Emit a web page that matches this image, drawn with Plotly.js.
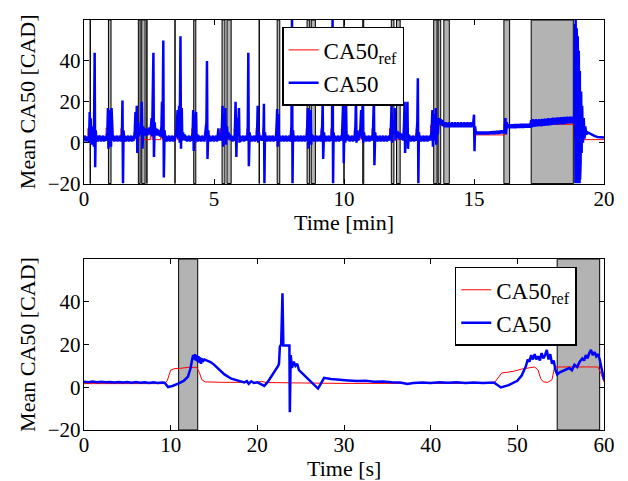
<!DOCTYPE html>
<html>
<head>
<meta charset="utf-8">
<script src="https://cdn.plot.ly/plotly-3.0.1.min.js"></script>
<style>html,body{margin:0;padding:0;background:#fff;}#chart{width:628px;height:481px;}</style>
</head>
<body>
<div id="chart"></div>
<script>
// ---------- DATA ----------
// Top panel: [time (min), CA50 (CAD)]
var topCA50 = [
[0,2],[0.03,3.5],[0.06,0.5],[0.09,3],[0.12,1],[0.15,2.5],[0.18,0.5],
[0.2,4],[0.22,15],[0.24,0],[0.26,12],[0.28,-1],[0.3,8],[0.33,2],[0.36,5],[0.38,-2],[0.41,44],[0.43,-12],[0.45,6],[0.48,1],[0.5,3],
[0.53,0.5],[0.56,3.5],[0.59,1],[0.62,3.5],[0.65,0.5],[0.68,3],[0.71,1],[0.74,3.5],[0.77,0.5],[0.8,3],[0.83,1],[0.86,3],
[0.9,5],[0.92,17],[0.94,-3],[0.97,16],[0.99,0],[1.02,15],[1.04,-2],[1.06,17],[1.08,3],[1.11,1],
[1.14,3.5],[1.17,0.5],[1.2,3],[1.23,1],[1.26,3.5],[1.29,0.5],[1.32,3],[1.35,1],[1.38,3.5],[1.41,0.5],[1.44,3],
[1.46,4],[1.48,20.6],[1.5,-20],[1.52,6],[1.55,1],[1.58,3.5],[1.61,0.5],[1.64,3],[1.67,1],[1.7,3.5],[1.73,0.5],[1.76,3],[1.79,1],[1.82,3.5],[1.85,0.5],[1.88,3],[1.91,1],
[1.95,5],[1.98,15],[2.0,2],[2.03,18],[2.05,-5],[2.08,10],[2.1,3],[2.14,7],[2.18,4],[2.22,20],[2.25,-3],[2.28,8],[2.31,4],[2.34,7],[2.37,3.5],[2.4,6.5],[2.43,3.5],
[2.46,7],[2.49,4],[2.52,7.5],[2.55,4],[2.6,12],[2.62,3],[2.65,26],[2.67,44],[2.69,-7],[2.72,10],[2.75,4],[2.78,7],[2.81,3.5],[2.84,6.5],[2.87,3.5],[2.9,6],[2.93,3],[2.96,5],
[2.98,8],[3.0,20],[3.02,2],[3.05,50],[3.07,-17],[3.1,6],[3.13,1],[3.16,3.5],[3.19,0.5],[3.22,3],[3.25,1],[3.28,3.5],[3.31,0.5],[3.34,3],[3.37,1],[3.4,3.5],[3.43,0.5],[3.46,3],[3.49,1],[3.52,3],
[3.55,5],[3.6,16],[3.62,2],[3.66,18],[3.68,0],[3.71,52],[3.73,-3],[3.76,17],[3.78,1],[3.81,5],[3.84,1.5],[3.87,4],[3.9,1],[3.93,3.5],[3.96,0.5],[3.99,3],[4.02,1],[4.05,3.5],[4.08,0.5],[4.11,3],[4.14,1],
[4.18,5],[4.2,16],[4.22,-4],[4.25,14],[4.28,0],[4.31,15],[4.33,2],[4.36,4],[4.39,0.5],[4.42,3.5],[4.45,1],[4.48,3],[4.51,0.5],[4.54,3.5],[4.57,1],[4.6,3],[4.63,0.5],[4.66,4],
[4.71,10],[4.73,40],[4.75,-8],[4.78,6],[4.81,1],[4.84,3.5],[4.87,0.5],[4.9,3],[4.93,1],[4.96,3.5],[4.99,0.5],[5.02,3],[5.05,1],[5.08,3.5],[5.11,0.5],[5.14,3],[5.17,7],[5.2,1],[5.23,3.5],[5.26,1],
[5.3,6],[5.33,18],[5.35,-2],[5.38,14],[5.41,3],[5.44,17],[5.46,-1],[5.5,8],[5.53,2],[5.56,5],[5.59,1.5],[5.62,4],[5.65,1],[5.68,3.5],[5.71,0.5],[5.74,3],[5.77,1],[5.8,4],
[5.83,20],[5.86,-7],[5.89,12],[5.92,3],[5.96,17],[5.98,0],[6.01,3.5],[6.04,0.5],[6.07,3],[6.1,1],[6.13,3.5],[6.16,0.5],[6.19,3],[6.22,1],[6.25,3.5],[6.28,1],
[6.3,8],[6.32,44],[6.34,-11.5],[6.37,5],[6.4,1],[6.43,3.5],[6.46,0.5],[6.49,3],[6.52,1],[6.55,3.5],[6.58,0.5],[6.61,3],[6.63,1],
[6.66,6],[6.68,18],[6.7,0],[6.73,5],[6.76,1],[6.79,3.5],[6.82,1],[6.85,3],[6.88,1],[6.9,2],[6.92,19],[6.94,-20],[6.96,5],[6.99,1],[7.02,3.5],[7.05,0.5],[7.08,3],[7.11,1],[7.14,3.5],[7.17,0.5],[7.2,3],[7.23,1],[7.26,3.5],[7.29,0.5],[7.32,3],[7.35,1],[7.38,3],
[7.4,6],[7.43,16.5],[7.45,-2],[7.48,14],[7.5,1],[7.53,3.5],[7.56,0.5],[7.59,3],[7.62,1],[7.65,3.5],[7.68,0.5],[7.71,3],[7.74,1],[7.77,3.5],[7.8,0.5],[7.83,3],[7.86,1],[7.89,3.5],[7.92,0.5],[7.95,3],
[7.98,8],[8.0,62],[8.02,-20],[8.04,6],[8.07,1],[8.1,3.5],[8.13,0.5],[8.16,3],[8.19,1],[8.22,3.5],[8.25,0.5],[8.28,3],[8.31,1],[8.34,3.5],[8.37,0.5],[8.4,3],[8.43,1],[8.46,3.5],[8.49,0.5],[8.52,3],[8.55,1],
[8.58,6],[8.61,17],[8.63,-3],[8.66,14],[8.69,1],[8.72,16],[8.74,-1],[8.77,4],[8.8,1],[8.83,3.5],[8.86,0.5],[8.89,3],[8.92,1],[8.95,3.5],[8.98,0.5],[9.01,3],[9.04,1],[9.07,3.5],[9.1,0.5],[9.13,3],
[9.16,8],[9.18,19.5],[9.2,-8],[9.23,5],[9.26,1],[9.29,3.5],[9.32,0.5],[9.35,3],[9.38,1],[9.41,3.5],[9.44,0.5],[9.47,3],[9.5,1],[9.52,3],
[9.54,8],[9.56,62],[9.58,-20],[9.6,5],[9.63,1],[9.66,3.5],[9.69,0.5],[9.72,3],[9.75,1],[9.78,3.5],[9.81,0.5],[9.84,3],[9.87,1],[9.9,3.5],[9.92,1],
[9.94,8],[9.97,21],[9.99,-10],[10.02,14],[10.05,0],[10.08,18],[10.1,1],[10.13,4],[10.16,1],[10.19,3.5],[10.22,0.5],[10.25,3],[10.28,1],[10.31,3.5],[10.34,0.5],[10.37,3],[10.4,1],
[10.44,8],[10.46,22],[10.48,0],[10.52,6],[10.55,1],[10.58,3.5],[10.62,4],[10.66,16],[10.68,2],[10.72,21],[10.74,0],[10.77,5],[10.8,1],[10.83,3.5],[10.86,0.5],[10.89,3],[10.92,1],[10.95,3.5],[10.98,0.5],[11.01,3],[11.04,1],[11.07,3.5],[11.1,1],
[11.12,8],[11.15,22],[11.17,-11],[11.2,5],[11.23,1],[11.26,3.5],[11.29,0.5],[11.32,3],[11.35,1],[11.38,3.5],[11.41,0.5],[11.44,3],[11.47,1],[11.5,3.5],[11.53,0.5],[11.56,3],[11.59,1],[11.62,3.5],[11.65,0.5],[11.68,3],[11.71,1],[11.74,3.5],[11.77,1],
[11.8,6],[11.83,18.5],[11.85,0],[11.88,10],[11.92,4],[11.96,17],[11.98,1],[12.01,6],[12.04,2.5],[12.07,5.5],[12.1,2],[12.13,5],[12.16,1.5],[12.19,4.5],[12.22,1.5],[12.25,4],[12.28,1],[12.3,5],
[12.33,20],[12.35,-5],[12.38,10],[12.41,3],[12.44,20],[12.46,-3],[12.49,4],[12.52,1],[12.55,3.5],[12.58,0.5],[12.61,3],[12.64,1],[12.67,3.5],[12.7,0.5],[12.73,3],[12.76,1],[12.79,4],
[12.82,10],[12.84,31.5],[12.86,-20],[12.88,5],[12.91,1],[12.94,3.5],[12.97,0.5],[13.0,3],[13.03,1],[13.06,3.5],[13.09,0.5],[13.12,3],[13.15,1],[13.18,3.5],[13.21,0.5],[13.24,3],[13.27,1],[13.3,3.5],[13.33,1],
[13.37,6],[13.4,16],[13.42,-2],[13.46,14],[13.49,1],[13.53,17],[13.55,-1],[13.58,12],[13.61,4],[13.64,11],
[13.67,12],[13.7,9],[13.73,11.5],[13.76,8.5],[13.79,11],[13.82,8],[13.85,10],[13.88,7.5],[13.91,10],[13.94,7.5],[13.97,9.5],[14.0,7.5],[14.03,10],[14.06,7.5],[14.09,9.5],[14.12,7.5],[14.15,10],[14.18,7.5],[14.21,9.5],[14.24,7.5],[14.27,10],[14.3,7.5],[14.33,9.5],[14.36,7.5],[14.39,10],[14.42,7.5],[14.45,9.5],[14.48,7.5],[14.51,10],[14.54,7.5],[14.57,9.5],[14.6,7.5],[14.63,10],[14.66,7.5],[14.69,9.5],[14.72,7.5],[14.75,10],[14.78,7.5],[14.81,9.5],[14.84,7.5],[14.87,10],[14.9,7.5],[14.93,9.5],[14.96,8],
[14.98,10],[15.0,13.7],[15.02,-4.2],[15.04,8],[15.07,5],
[15.1,5.5],[15.13,4],[15.16,5.5],[15.19,4],[15.22,5.5],[15.25,4],[15.28,5.5],[15.31,4],[15.34,5.5],[15.37,4],[15.4,5.5],[15.43,4],[15.46,5.5],[15.49,4],[15.52,5.5],[15.55,4],[15.58,5.5],[15.61,4.2],[15.64,5.6],[15.67,4.2],[15.7,5.6],[15.73,4.2],[15.76,5.7],[15.79,4.2],[15.82,5.7],[15.85,4.3],[15.88,5.8],[15.91,4.3],[15.94,5.8],[15.97,4.4],[16.0,5.9],[16.03,4.5],[16.06,6],[16.09,4.5],[16.12,6],[16.15,5],
[16.18,7],[16.21,12],[16.23,4],[16.26,10],[16.3,7],
[16.33,9],[16.36,7],[16.39,9],[16.42,7],[16.45,9],[16.48,7],[16.51,9],[16.54,7],[16.57,9.2],[16.6,7],[16.63,9.2],[16.66,7.2],[16.69,9.2],[16.72,7.2],[16.75,9.2],[16.78,7.2],[16.81,9.3],[16.84,7.2],[16.87,9.3],[16.9,7.2],[16.93,9.3],[16.96,7.3],[16.99,9.3],[17.02,7.3],[17.05,9.3],[17.08,7.3],[17.11,9.3],[17.14,7.3],[17.17,9],
[17.2,11],[17.23,7.5],[17.26,11.5],[17.29,8],[17.32,11],[17.35,7.8],[17.38,11.5],[17.41,8],[17.44,11.2],[17.47,8],[17.5,11.5],[17.53,8.2],[17.56,11.3],[17.59,8],[17.62,11.6],[17.65,8.3],[17.68,11.5],[17.71,8.2],[17.74,11.8],[17.77,8.5],[17.8,11.6],[17.83,8.4],[17.86,12],[17.89,8.5],[17.92,11.8],[17.95,8.6],[17.98,12],[18.01,8.7],[18.04,12.2],[18.07,8.8],[18.1,12],[18.13,8.8],[18.16,12.3],[18.19,8.9],[18.22,12.4],[18.25,9],[18.28,12.3],[18.31,9],[18.34,12.5],[18.37,9.2],[18.4,12.4],[18.43,9],[18.46,12.6],[18.49,9.2],[18.52,12.5],[18.55,9.3],[18.58,12.7],[18.61,9.3],[18.64,12.6],[18.67,9.4],[18.7,12.8],[18.73,9.4],[18.76,12.7],[18.79,9.5],[18.82,12.8],[18.84,9.5],
[18.86,14],[18.87,40],[18.88,-12],[18.89,58],[18.9,-20],[18.91,60],[18.92,-8],[18.93,59],[18.94,-20],[18.95,56],[18.96,-15],[18.97,55],[18.98,-20],[18.99,52],[19.0,-10],[19.01,50],[19.02,-20],[19.03,45],[19.04,-5],[19.05,40],[19.06,-20],[19.07,35],[19.08,-18],[19.09,30],[19.1,-10],[19.12,25],[19.14,-5],[19.16,18],[19.19,0],[19.22,12],[19.25,2],[19.28,8],[19.32,4],
[19.37,5],[19.45,4.5],[19.55,3.5],[19.65,3.2],[19.75,2.8],[19.85,2.6],[20,2.5]
];
// Top panel reference: [time (min), CA50_ref (CAD)]
var topRef = [
[0,1.5],[0.15,1.5],[0.15,7],[0.22,7],[0.22,1.5],[0.85,1.5],[0.85,7.2],[0.92,7.2],[0.92,1.5],
[1.42,1.5],[1.42,7],[1.48,7],[1.48,1.5],[1.95,1.5],[1.95,7],[2.03,7],[2.03,1.5],
[2.55,1.5],[2.55,7],[2.62,7],[2.62,1.5],[2.95,1.5],[2.95,7],[3.02,7],[3.02,1.5],
[3.52,1.5],[3.52,8],[3.6,8],[3.6,1.5],[4.15,1.5],[4.15,7],[4.22,7],[4.22,1.5],
[4.68,1.5],[4.68,7],[4.73,7],[4.73,1.5],[5.25,1.5],[5.25,7],[5.32,7],[5.32,1.5],
[5.78,1.5],[5.78,7],[5.84,7],[5.84,1.5],[6.27,1.5],[6.27,7],[6.32,7],[6.32,1.5],
[6.62,1.5],[6.62,7],[6.68,7],[6.68,1.5],[6.88,1.5],[6.88,7],[6.92,7],[6.92,1.5],
[7.38,1.5],[7.38,7],[7.43,7],[7.43,1.5],[7.95,1.5],[7.95,7],[8.0,7],[8.0,1.5],
[8.55,1.5],[8.55,7],[8.61,7],[8.61,1.5],[9.12,1.5],[9.12,7],[9.18,7],[9.18,1.5],
[9.5,1.5],[9.5,7],[9.56,7],[9.56,1.5],[9.9,1.5],[9.9,7],[9.97,7],[9.97,1.5],
[10.4,1.5],[10.4,7],[10.46,7],[10.46,1.5],[10.62,1.5],[10.62,7],[10.68,7],[10.68,1.5],
[11.08,1.5],[11.08,7],[11.15,7],[11.15,1.5],[11.75,1.5],[11.75,7],[11.83,7],[11.83,1.5],
[12.28,1.5],[12.28,7],[12.33,7],[12.33,1.5],[12.78,1.5],[12.78,7],[12.84,7],[12.84,1.5],
[13.33,1.5],[13.33,8.5],[14.98,8.5],[14.98,3.8],[16.18,3.8],[16.18,8.3],[17.2,8.3],[17.2,9],[18.86,9],[18.86,1.5],[20,1.5]
];
// Top panel shaded intervals (min)
var topShadeStart = [0.24,0.94,2.09,2.22,2.42,3.50,4.22,5.31,5.50,6.74,7.43,8.58,8.74,10.00,10.72,11.82,12.02,13.45,13.62,13.84,16.15,17.20];
var topShadeEnd   = [0.24,1.04,2.16,2.35,2.42,3.50,4.30,5.42,5.66,6.74,7.53,8.68,8.90,10.00,10.76,11.92,12.16,13.58,13.72,14.05,16.37,18.82];

// Bottom panel: [time (s), CA50 (CAD)]
var botCA50 = [
[0,2.6],[0.5,2.4],[1,2.7],[1.5,2.3],[2,2.6],[2.5,2.3],[3,2.5],[3.5,2.2],[4,2.5],[4.5,2.2],[5,2.4],[5.5,2.1],[6,2.4],[6.5,2.1],[7,2.3],[7.5,2.0],[8,2.3],[8.5,2.0],[9,2.2],[9.3,2.1],
[9.7,0.1],[10.2,0.6],[10.8,1.6],[11.5,3.0],[12.0,5.0],[12.3,9],[12.5,13.5],[12.6,15],[12.7,13],[12.8,15.5],[12.9,12.5],[13.0,15],[13.1,12],[13.2,14.5],[13.3,11.5],[13.4,14],[13.5,11],[13.6,13.5],[13.7,12],[13.9,13],[14.2,12.5],[14.6,11.8],[15.0,10.6],
[15.6,8.5],[16.2,6.0],[17.0,4.0],[17.8,3.0],[18.5,2.3],[18.8,2.9],[19.0,1.6],[19.3,2.8],[19.6,2.0],[20.0,2.3],[20.4,1.5],[20.8,0.6],[21.2,2.5],[21.6,5.0],[22.1,7.5],[22.4,10],[22.5,11],[22.6,19],[22.75,20],[22.9,44],[23.0,19.5],[23.7,19.5],[23.75,-11.7],[23.85,15],[24.0,9],[24.2,12],[24.4,10],[24.6,11],[24.8,8],[25.3,6],[26.0,3.5],[26.6,1.2],[27.0,-0.6],[27.3,1.5],[27.7,4.4],
[28.5,3.9],[29.5,3.4],[30.5,3.2],[31.5,2.9],[32.5,3.0],[33.5,2.6],[34.5,2.7],[35.5,2.4],[36.5,2.2],[37.3,1.5],[38.0,2.0],[39.0,2.2],[40.0,2.0],[41.0,2.3],[42.0,2.1],[43.0,2.3],[44.0,2.0],[45.0,2.2],[46.0,2.0],[47.3,2.2],
[47.8,1.0],[48.1,-0.1],[49.0,1.0],[50.0,3.0],[50.5,5.5],[51.0,10],[51.2,13],[51.4,12],[51.6,15],[51.8,13],[52.0,15.5],[52.2,13],[52.4,14.5],[52.6,12.5],[52.8,16],[53.0,13.5],[53.2,15],[53.4,17.5],[53.6,13],[53.8,15.5],[54.0,11],[54.2,12.5],[54.4,8],[54.6,6],
[54.9,7],[55.2,7.5],[55.6,8.5],[56.0,9],[56.3,8],[56.6,10.5],[56.9,9.5],[57.2,12],[57.5,13.5],[57.7,12.5],[57.9,15],[58.1,13.5],[58.3,16],[58.5,17.5],[58.7,15],[58.9,16.5],[59.1,14.5],[59.3,15.5],[59.5,13],[59.7,9],[59.85,6],[60,3.5]
];
// Bottom panel reference: [time (s), CA50_ref (CAD)]
var botRef = [
[0,1.7],[9.3,1.7],[9.6,3],[10.0,8.0],[10.5,8.8],[11.0,8.8],[12.0,9.3],[13.0,9.3],[13.3,7],[13.6,3.5],[14.0,2.5],[16,2.3],[20,2.3],[20.5,2.8],[21,2.2],[25,1.9],[30,1.8],[47.3,1.8],
[47.7,4],[48.2,6.7],[48.8,7],[49.6,7.5],[50.5,8.5],[51.5,9.3],[52.0,9.5],[52.4,8],[52.7,4],[53.0,2.5],[53.5,2.3],[54.0,3.5],[54.3,9.5],[59.3,9.5],[59.7,6],[60,2.5]
];
// Bottom panel shaded intervals (s)
var botShadeStart = [10.92,54.6];
var botShadeEnd   = [13.12,59.5];

var xTicksTop = [0,5,10,15,20];
var xTicksBot = [0,10,20,30,40,50,60];
var yTicks = [-20,0,20,40];
var legendNames = ['CA50<sub>ref</sub>','CA50'];
var xTitles = ['Time [min]','Time [s]'];
var yTitle = 'Mean CA50 [CAD]';

// ---------- PLOT ----------
function col(a,i){return a.map(function(p){return p[i];});}
var FONT = 'Liberation Serif';

var traces = [
 {x:col(topRef,0), y:col(topRef,1), xaxis:'x', yaxis:'y', mode:'lines', name:legendNames[0], line:{color:'#ff0000', width:1}, legend:'legend'},
 {x:col(topCA50,0), y:col(topCA50,1), xaxis:'x', yaxis:'y', mode:'lines', name:legendNames[1], line:{color:'#0000ff', width:2.5}, legend:'legend'},
 {x:col(botRef,0), y:col(botRef,1), xaxis:'x2', yaxis:'y2', mode:'lines', name:legendNames[0], line:{color:'#ff0000', width:1}, legend:'legend2'},
 {x:col(botCA50,0), y:col(botCA50,1), xaxis:'x2', yaxis:'y2', mode:'lines', name:legendNames[1], line:{color:'#0000ff', width:2.5}, legend:'legend2'}
];

var shapes = [];
function addShades(s,e,xr,yr){
  for (var i=0;i<s.length;i++){
    shapes.push({type:'rect', xref:xr, yref:yr+' domain', x0:s[i], x1:e[i], y0:0, y1:1,
      fillcolor:'#b3b3b3', line:{color:'#000', width:1}, layer:'below'});
  }
}
addShades(topShadeStart, topShadeEnd, 'x', 'y');
addShades(botShadeStart, botShadeEnd, 'x2', 'y2');

function xax(range, ticks, anchor){
  return {range:range, tickvals:ticks, ticktext:ticks.map(String), anchor:anchor,
    showline:true, mirror:'ticks', linecolor:'#000', linewidth:1.2, ticks:'inside', ticklen:5, tickcolor:'#000',
    ticklabelstandoff:-4,
    showgrid:false, zeroline:false, tickfont:{family:FONT, size:21, color:'#000'}, fixedrange:true};
}
function yax(domain, anchor){
  return {range:[-20,60], domain:domain, tickvals:yTicks, anchor:anchor,
    showline:true, mirror:'ticks', linecolor:'#000', linewidth:1.2, ticks:'inside', ticklen:5, tickcolor:'#000',
    ticklabelstandoff:-2,
    showgrid:false, zeroline:false, tickfont:{family:FONT, size:21, color:'#000'},
    title:{text:yTitle, font:{family:FONT, size:22, color:'#000'}, standoff:6}, fixedrange:true};
}

var layout = {
  width:628, height:481,
  margin:{l:84, r:24, t:20, b:51},
  paper_bgcolor:'#fff', plot_bgcolor:'#fff',
  font:{family:FONT, color:'#000'},
  xaxis: xax([0,20], xTicksTop, 'y'),
  yaxis: yax([0.601,1], 'x'),
  xaxis2: xax([0,60], xTicksBot, 'y2'),
  yaxis2: yax([0,0.417], 'x2'),
  shapes: shapes,
  annotations:[
    {text:xTitles[0], xref:'paper', yref:'paper', x:0.5, y:0.507, xanchor:'center', yanchor:'middle', showarrow:false, font:{family:FONT, size:22, color:'#000'}},
    {text:xTitles[1], xref:'paper', yref:'paper', x:0.5, y:-0.093, xanchor:'center', yanchor:'middle', showarrow:false, font:{family:FONT, size:22, color:'#000'}}
  ],
  legend:{x:0.381, y:0.983, xanchor:'left', yanchor:'top', bgcolor:'#fff', bordercolor:'#000', borderwidth:1.5,
    font:{family:FONT, size:23, color:'#000'}, tracegroupgap:0},
  legend2:{x:0.713, y:0.398, xanchor:'left', yanchor:'top', bgcolor:'#fff', bordercolor:'#000', borderwidth:1.5,
    font:{family:FONT, size:23, color:'#000'}, tracegroupgap:0},
  showlegend:true
};

Plotly.newPlot('chart', traces, layout, {displayModeBar:false, staticPlot:true});
</script>
</body>
</html>
